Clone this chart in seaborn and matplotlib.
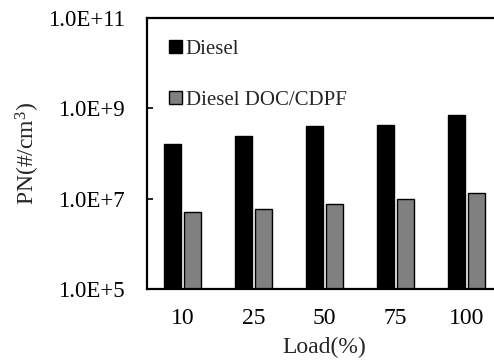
import matplotlib
matplotlib.use("Agg")
import matplotlib.pyplot as plt
from matplotlib.patches import Patch
from matplotlib.ticker import FixedLocator, FixedFormatter, NullLocator
import seaborn as sns
import pandas as pd

# Particle number concentration by engine load
loads = ["10", "25", "50", "75", "100"]
series_names = ["Diesel", "Diesel DOC/CDPF"]
diesel = [1.6e8, 2.5e8, 4.0e8, 4.2e8, 7.0e8]
diesel_doc_cdpf = [5.0e6, 5.9e6, 7.6e6, 9.8e6, 1.35e7]
y_ticks = [1e5, 1e7, 1e9, 1e11]
y_tick_labels = ["1.0E+5", "1.0E+7", "1.0E+9", "1.0E+11"]
colors = ["#000000", "#808080"]

df = pd.DataFrame({
    "Load": loads * 2,
    "Series": [series_names[0]] * len(loads) + [series_names[1]] * len(loads),
    "PN": diesel + diesel_doc_cdpf,
})

sns.set_style("white")
plt.rcParams["font.family"] = ["Liberation Serif", "DejaVu Serif"]
plt.rcParams["mathtext.fontset"] = "custom"
plt.rcParams["mathtext.rm"] = "Liberation Serif"
plt.rcParams["mathtext.it"] = "Liberation Serif:italic"

fig = plt.figure(figsize=(4.94, 3.64), dpi=100)
ax = fig.add_axes([147 / 494, 75 / 364, 355 / 494, 271 / 364])
ax.set_yscale("log")

sns.barplot(data=df, x="Load", y="PN", hue="Series", hue_order=series_names,
            palette=colors, width=0.55, gap=0.12, edgecolor="black",
            linewidth=1.0, legend=False, ax=ax)

ax.set_ylim(y_ticks[0], y_ticks[-1])
ax.set_xlim(-0.5, len(loads) - 0.5)
ax.yaxis.set_major_locator(FixedLocator(y_ticks))
ax.yaxis.set_major_formatter(FixedFormatter(y_tick_labels))
ax.yaxis.set_minor_locator(NullLocator())

for side in ["left", "top", "bottom"]:
    ax.spines[side].set_visible(True)
    ax.spines[side].set_color("black")
    ax.spines[side].set_linewidth(1.6)
ax.spines["right"].set_visible(False)

ax.tick_params(axis="y", direction="in", length=4, width=1.2, pad=16,
               labelsize=16.5, left=True, colors="black")
ax.tick_params(axis="x", length=0, pad=14, labelsize=17, colors="black")

ax.set_xlabel("Load(%)", fontsize=17, labelpad=5)
ax.set_ylabel("PN(#/cm$^3$)", fontsize=17, labelpad=4)

handles = [Patch(facecolor=c, edgecolor="black", linewidth=1.0) for c in colors]
ax.legend(handles, series_names, loc="upper left", bbox_to_anchor=(0.062, 0.918),
          frameon=False, fontsize=15, handlelength=0.6, handleheight=0.6,
          handletextpad=0.2, labelspacing=1.52, borderpad=0, borderaxespad=0)

fig.savefig("out.png", dpi=100)
